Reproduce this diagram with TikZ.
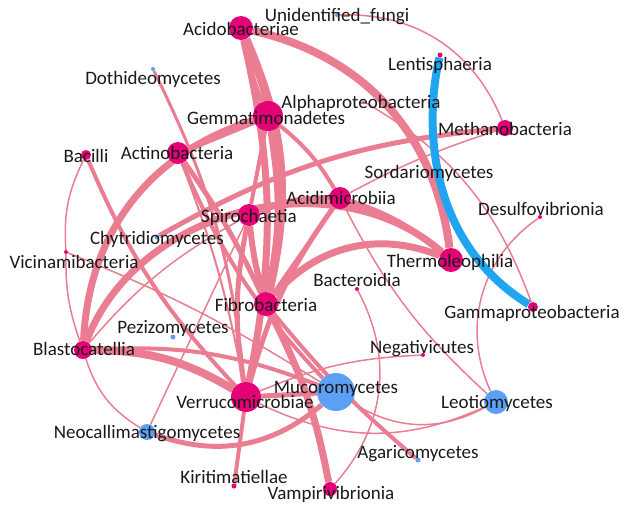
\documentclass[tikz,border=0pt]{standalone}
\usepackage{fontspec}
\setmainfont{Carlito}
\pgfdeclarelayer{bg}
\pgfsetlayers{bg,main}
\definecolor{ep}{RGB}{235,125,147}
\definecolor{eb}{RGB}{32,166,240}
\definecolor{np}{RGB}{229,0,120}
\definecolor{nb}{RGB}{92,160,245}
\definecolor{tx}{RGB}{25,25,25}
\begin{document}
\begin{tikzpicture}[x=1pt,y=-1pt,
  pl/.style={draw=ep,line width=#1},
  bl/.style={draw=eb,line width=#1},
  pn/.style={circle,fill=np,inner sep=0pt,minimum size=#1},
  bn/.style={circle,fill=nb,inner sep=0pt,minimum size=#1},
  lab/.style={anchor=base,inner sep=0pt,font=\fontsize{19}{19}\selectfont,text=tx}]
\useasboundingbox (0,0) rectangle (624,507);
% nodes
\node[pn=24] (acido) at (241,28) {};
\node[bn=4] (unid) at (337,15) {};
\node[bn=4] (dothi) at (153,69) {};
\node[pn=5] (lenti) at (440,55) {};
\coordinate (alpha) at (361,100);
\node[pn=30] (gemma) at (268,116) {};
\node[pn=16] (metha) at (505,128) {};
\node[pn=10] (bacilli) at (86,155) {};
\node[pn=22] (actino) at (178,153) {};
\node[pn=22] (acidim) at (340,198) {};
\node[pn=22] (spiro) at (249,215) {};
\node[pn=4] (desulfo) at (540,217) {};
\node[bn=5] (chytr) at (157,237) {};
\node[pn=4] (vicin) at (66,252) {};
\node[pn=24] (thermo) at (451,260) {};
\node[pn=4] (bactero) at (357,289) {};
\node[pn=24] (fibro) at (266,304) {};
\node[pn=10] (gamma) at (533,307) {};
\node[bn=5] (pezizo) at (173,337) {};
\node[pn=18] (blasto) at (83,350) {};
\node[pn=4] (negat) at (423,355) {};
\node[bn=38] (mucoro) at (336,392) {};
\node[pn=30] (verruco) at (246,397) {};
\node[bn=24] (leotio) at (496,402) {};
\node[bn=16] (neocal) at (147,432) {};
\node[bn=5] (agari) at (418,460) {};
\node[pn=5] (kiriti) at (234,486) {};
\node[pn=14] (vampi) at (330,489) {};
% edges
\begin{pgfonlayer}{bg}
\draw[pl=8] (acido) to[bend left=35] (thermo);
\draw[pl=9] (acido) to[bend left=18] (fibro);
\draw[pl=7] (acido) to[bend left=12] (verruco);
\draw[pl=4] (acido) to[bend right=5] (gemma);
\draw[pl=6] (gemma) -- (actino);
\draw[pl=7] (gemma) to[bend right=35] (blasto);
\draw[pl=4] (gemma) -- (spiro);
\draw[pl=6] (gemma) to[bend left=10] (fibro);
\draw[pl=4] (gemma) to[bend left=10] (acidim);
\draw[pl=7] (blasto) to[bend left=55] (thermo);
\draw[pl=6] (spiro) to[bend left=10] (acidim);
\draw[pl=6] (spiro) to[bend right=5] (fibro);
\draw[pl=5] (spiro) to[bend right=10] (verruco);
\draw[pl=6] (acidim) to[bend left=10] (thermo);
\draw[pl=7] (fibro) to[bend left=35] (thermo);
\draw[pl=5] (acidim) to[bend right=10] (verruco);
\draw[pl=4] (acidim) -- (fibro);
\draw[pl=8] (blasto) to[bend left=15] (verruco);
\draw[pl=4] (blasto) to[bend left=12] (mucoro);
\draw[pl=5] (neocal) to[bend right=30] (mucoro);
\draw[pl=7] (fibro) to[bend left=8] (vampi);
\draw[pl=4] (verruco) -- (kiriti);
\draw[pl=5] (verruco) -- (mucoro);
\draw[pl=2] (actino) to[bend left=5] (verruco);
\draw[pl=4] (actino) to[bend right=10] (mucoro);
\draw[pl=5] (actino) to[bend left=5] (fibro);
\draw[pl=4] (bacilli) to[bend right=10] (verruco);
\draw[pl=1.5] (bacilli) to[bend right=15] (vicin);
\draw[pl=1.5] (vicin) to[bend right=10] (blasto);
\draw[pl=1.5] (vicin) to[bend left=5] (mucoro);
\draw[pl=5] (chytr) to[bend left=12] (metha);
\draw[pl=1.5] (spiro) -- (neocal);
\draw[pl=1.5] (blasto) to[bend right=20] (neocal);
\draw[pl=1.5] (blasto) to[bend left=10] (spiro);
\draw[pl=3] (dothi) to[bend left=10] (verruco);
\draw[pl=1.5] (unid) to[bend left=35] (metha);
\draw[pl=1.5] (alpha) to[bend left=20] (gamma);
\draw[pl=1.5] (desulfo) to[bend right=40] (leotio);
\draw[pl=1.5] (bactero) to[bend left=35] (vampi);
\draw[pl=1.5] (acidim) to[bend right=10] (leotio);
\draw[pl=1.5] (verruco) to[bend left=10] (negat);
\draw[pl=1.5] (mucoro) to[bend right=30] (leotio);
\draw[pl=1.5] (verruco) to[bend right=25] (leotio);
\draw[pl=4] (fibro) to[bend right=5] (agari);
\draw[pl=1.5] (acidim) to[bend left=5] (metha);
\draw[bl=8] (lenti) .. controls (425,120) and (425,240) .. (gamma);
\end{pgfonlayer}
% labels
\node[lab] (l-acido) at (241,35) {Acidobacteriae};
\node[lab] (l-unid) at (337,21) {Unidentified\_fungi};
\node[lab] (l-dothi) at (153,84) {Dothideomycetes};
\node[lab] (l-lenti) at (440,70) {Lentisphaeria};
\node[lab] (l-alpha) at (361,108) {Alphaproteobacteria};
\node[lab] (l-gemma) at (266,124) {Gemmatimonadetes};
\node[lab] (l-metha) at (505,135) {Methanobacteria};
\node[lab] (l-bacilli) at (86,162) {Bacilli};
\node[lab] (l-actino) at (177,159) {Actinobacteria};
\node[lab] (l-sorda) at (429,178) {Sordariomycetes};
\node[lab] (l-acidim) at (341,204) {Acidimicrobiia};
\node[lab] (l-spiro) at (249,222) {Spirochaetia};
\node[lab] (l-desulfo) at (541,215) {Desulfovibrionia};
\node[lab] (l-chytr) at (157,244) {Chytridiomycetes};
\node[lab] (l-vicin) at (74,268) {Vicinamibacteria};
\node[lab] (l-thermo) at (450,267) {Thermoleophilia};
\node[lab] (l-bactero) at (357,286) {Bacteroidia};
\node[lab] (l-fibro) at (266,311) {Fibrobacteria};
\node[lab] (l-gamma) at (532,318) {Gammaproteobacteria};
\node[lab] (l-pezizo) at (173,333) {Pezizomycetes};
\node[lab] (l-blasto) at (84,355) {Blastocatellia};
\node[lab] (l-negat) at (422,353) {Negativicutes};
\node[lab] (l-mucoro) at (336,393) {Mucoromycetes};
\node[lab] (l-verruco) at (245,408) {Verrucomicrobiae};
\node[lab] (l-leotio) at (497,408) {Leotiomycetes};
\node[lab] (l-neocal) at (147,438) {Neocallimastigomycetes};
\node[lab] (l-agari) at (418,458) {Agaricomycetes};
\node[lab] (l-kiriti) at (234,483) {Kiritimatiellae};
\node[lab] (l-vampi) at (331,499) {Vampirivibrionia};
\end{tikzpicture}
\end{document}
